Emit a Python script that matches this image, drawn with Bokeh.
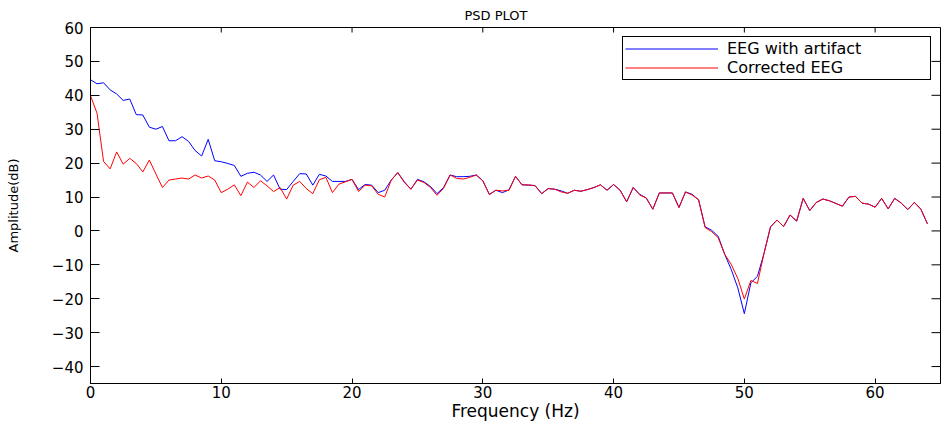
import numpy as np
from bokeh.plotting import figure
from bokeh.models import FixedTicker, Legend, LegendItem, Range1d
from bokeh.embed import file_html
from bokeh.resources import INLINE

# ---- data ----
freq_step = 0.5  # Hz between PSD bins

eeg_with_artifact = [
    44.6, 43.4, 43.7, 41.6, 40.4, 38.5, 38.9, 34.3, 34.2, 30.6,
    30.0, 30.8, 26.6, 26.6, 27.8, 26.4, 23.7, 22.1, 27.0, 20.7,
    20.4, 19.9, 19.3, 16.1, 17.0, 17.3, 16.5, 14.6, 16.5, 12.3,
    12.2, 14.6, 16.9, 16.8, 13.5, 16.7, 16.2, 14.6, 14.6, 14.6,
    15.2, 12.2, 13.7, 13.5, 11.3, 12.0, 15.0, 17.2, 14.5, 12.3,
    15.2, 14.5, 13.1, 11.0, 12.8, 16.5, 16.0, 16.0, 16.1, 16.5,
    14.8, 10.8, 12.0, 11.3, 12.1, 16.1, 13.6, 13.5, 13.4, 11.0,
    12.5, 12.3, 11.8, 11.1, 12.0, 11.7, 12.2, 12.8, 13.6, 12.0,
    13.7, 12.0, 8.6, 12.8, 10.8, 9.7, 6.4, 11.2, 11.2, 11.2,
    6.9, 11.5, 10.8, 9.2, 1.2, 0.2, -1.6, -6.9, -11.4, -16.8,
    -24.4, -15.3, -13.4, -6.7, 1.2, 3.2, 1.3, 4.7, 2.9, 9.6,
    6.0, 8.4, 9.4, 8.9, 8.1, 7.3, 10.0, 10.2, 8.2, 7.9,
    7.0, 9.6, 6.5, 9.6, 8.2, 6.3, 8.4, 6.4, 2.1,
]

corrected_eeg = [
    39.9, 34.7, 20.5, 18.3, 23.3, 19.7, 21.4, 19.9, 17.4, 20.9,
    16.8, 12.8, 15.0, 15.3, 15.6, 15.3, 16.5, 15.6, 16.2, 15.0,
    11.3, 12.3, 13.6, 10.4, 14.4, 12.8, 14.8, 13.3, 11.6, 12.8,
    9.4, 13.5, 14.6, 12.5, 11.0, 15.1, 15.8, 11.3, 13.8, 14.5,
    15.2, 11.6, 13.5, 13.3, 10.8, 10.0, 15.0, 17.2, 14.3, 12.3,
    15.0, 14.3, 12.8, 10.5, 12.6, 16.5, 15.5, 15.3, 15.8, 16.5,
    14.8, 10.7, 12.0, 11.8, 12.0, 16.1, 13.6, 13.6, 13.3, 11.0,
    12.5, 12.3, 11.5, 11.1, 12.0, 11.7, 12.2, 12.8, 13.6, 12.0,
    13.7, 12.0, 8.6, 12.8, 10.6, 9.7, 6.4, 11.2, 11.2, 11.2,
    6.9, 11.5, 10.6, 9.2, 1.0, -0.2, -2.0, -6.9, -9.9, -14.0,
    -20.1, -14.6, -15.5, -6.7, 1.2, 3.2, 1.3, 4.7, 2.9, 9.6,
    6.0, 8.4, 9.4, 8.9, 8.1, 7.3, 10.0, 10.2, 8.2, 7.9,
    7.0, 9.6, 6.5, 9.6, 8.2, 6.3, 8.4, 6.4, 2.1,
]

freq = [i * freq_step for i in range(len(eeg_with_artifact))]

x_ticks = [0, 10, 20, 30, 40, 50, 60]
y_ticks = [-40, -30, -20, -10, 0, 10, 20, 30, 40, 50, 60]
series_names = ["EEG with artifact", "Corrected EEG"]
title_text = "PSD PLOT"
x_title = "Frequency (Hz)"
y_title = "Amplitude(dB)"

X_MIN, X_MAX = 0, 65
Y_MIN, Y_MAX = -45, 60

FONT = "DejaVu Sans"

W, H = 941, 423
B_LEFT, B_RIGHT, B_TOP, B_BOTTOM = 90, 1, 27, 40

p = figure(
    width=W, height=H,
    x_range=Range1d(X_MIN, X_MAX), y_range=Range1d(Y_MIN, Y_MAX),
    output_backend="svg", toolbar_location=None,
    min_border_left=B_LEFT, min_border_right=B_RIGHT,
    min_border_top=B_TOP, min_border_bottom=B_BOTTOM,
)
p.xgrid.visible = False
p.ygrid.visible = False
p.outline_line_color = "black"
p.outline_line_alpha = 1.0
p.outline_line_width = 1
p.background_fill_color = "white"
p.border_fill_color = "white"

# title
p.title.text = title_text
p.title.align = "left"
p.title.offset = 374
p.title.text_font = FONT
p.title.text_font_size = "13px"
p.title.text_font_style = "normal"
p.title.text_color = "black"
p.title.standoff = 10

X_TICK_LEN, Y_TICK_LEN = 5, 9


def style_axis(ax, ticks, tick_len, standoff):
    ax.ticker = FixedTicker(ticks=ticks)
    ax.major_tick_in = tick_len
    ax.major_tick_out = 0
    ax.minor_tick_in = 0
    ax.minor_tick_out = 0
    ax.axis_line_color = "black"
    ax.major_tick_line_color = "black"
    ax.major_label_text_font = FONT
    ax.major_label_text_color = "black"
    ax.major_label_text_font_size = "15px"
    ax.major_label_standoff = standoff
    ax.axis_label_text_font = FONT
    ax.axis_label_text_font_style = "normal"
    ax.axis_label_text_color = "black"


xa = p.xaxis[0]
style_axis(xa, x_ticks, X_TICK_LEN, 2)
xa.axis_label = x_title
xa.axis_label_text_font_size = "17px"
xa.axis_label_standoff = 0

ya = p.yaxis[0]
style_axis(ya, y_ticks, Y_TICK_LEN, 7)
ya.axis_label = y_title
ya.axis_label_text_font_size = "13px"
ya.axis_label_standoff = 28

# mirrored inward ticks on the top and right edges of the box
frame_w = W - B_LEFT - B_RIGHT
frame_h = H - B_TOP - B_BOTTOM
dy_tick = X_TICK_LEN * (Y_MAX - Y_MIN) / frame_h
dx_tick = Y_TICK_LEN * (X_MAX - X_MIN) / frame_w
p.segment(x0=x_ticks, y0=[Y_MAX] * len(x_ticks), x1=x_ticks,
          y1=[Y_MAX - dy_tick] * len(x_ticks), line_color="black", line_width=1)
p.segment(x0=[X_MAX] * len(y_ticks), y0=y_ticks, x1=[X_MAX - dx_tick] * len(y_ticks),
          y1=y_ticks, line_color="black", line_width=1)

r_art = p.line(freq, eeg_with_artifact, line_color="#0000ff", line_width=1)
r_cor = p.line(freq, corrected_eeg, line_color="#ff0000", line_width=1)

legend = Legend(
    items=[LegendItem(label=series_names[0], renderers=[r_art]),
           LegendItem(label=series_names[1], renderers=[r_cor])],
    location="top_right", margin=9, padding=2, spacing=0,
    glyph_width=93, glyph_height=17, label_height=17, label_width=201,
    label_standoff=9, label_text_font=FONT, label_text_font_size="16px",
    label_text_color="black",
    border_line_color="black", border_line_width=1, border_line_alpha=1.0,
    background_fill_color="white", background_fill_alpha=1.0,
)
p.add_layout(legend)

open("out.html", "w").write(file_html(p, INLINE))
